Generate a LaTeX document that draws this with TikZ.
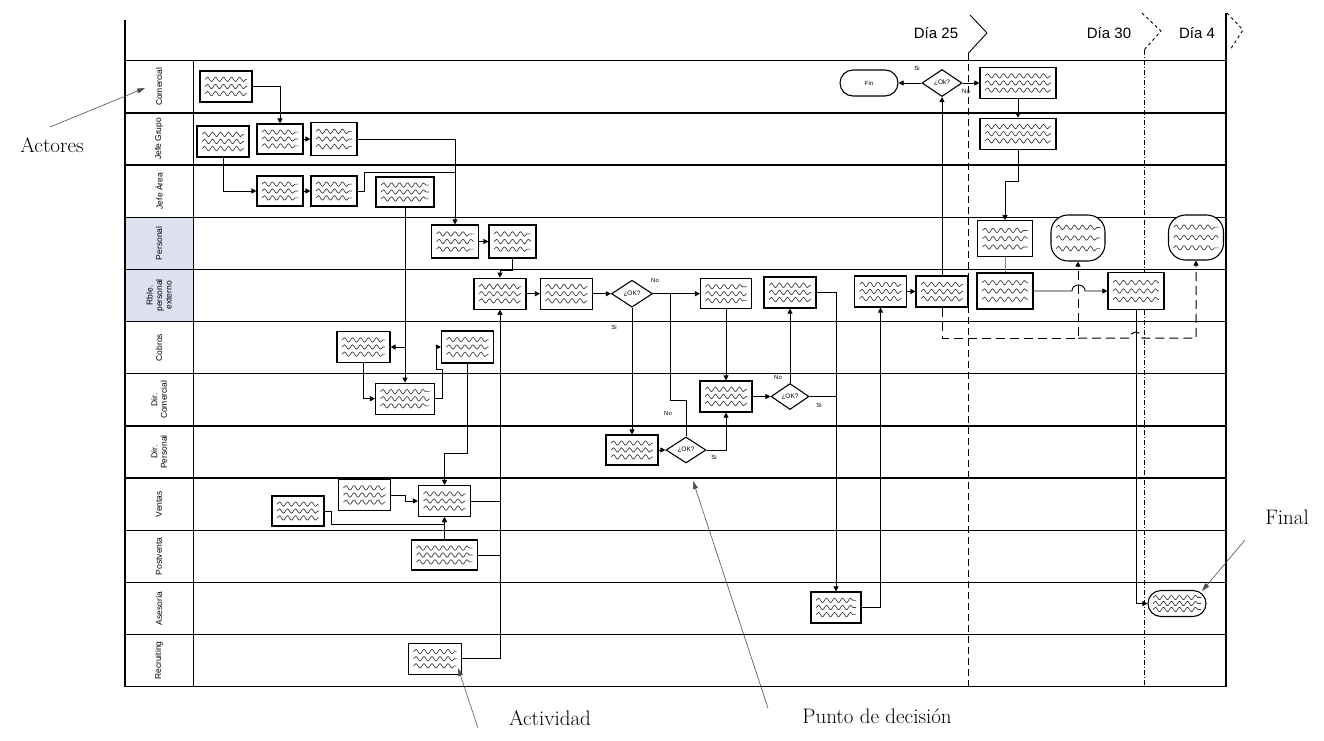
\documentclass[tikz,border=0pt]{standalone}
\usepackage{fontspec}
\setsansfont{Liberation Sans}
\usetikzlibrary{arrows.meta,shapes.geometric,decorations.pathmorphing,calc}
\definecolor{laneblue}{RGB}{222,224,240}
\definecolor{scrib}{RGB}{55,55,55}
\begin{document}
\begin{tikzpicture}[x=1pt,y=-1pt,
  lane/.style={line width=1.3pt},
  sz/.style 2 args={minimum width=#1pt, minimum height=#2pt},
  act/.style={draw, line width=1.1pt, fill=white, inner sep=0pt,
    path picture={
      \foreach \f in {0.27,0.5,0.73}{
        \draw[scrib, sharp corners, line width=0.65pt, decorate,
              decoration={snake,amplitude=2.2pt,segment length=8pt}]
          ($(path picture bounding box.north west)!\f!(path picture bounding box.south west)+(5pt,0)$) --
          ($(path picture bounding box.north east)!\f!(path picture bounding box.south east)+(-5pt,0)$);
      }}},
  pill/.style={act, rounded corners=#1},
  dec/.style={diamond, draw, line width=1.1pt, fill=white, inner sep=0pt,
    font=\sffamily\fontsize{6.5}{7}\selectfont},
  conn/.style={line width=0.9pt},
  arr/.style={conn, -{Triangle[length=5pt,width=5pt]}},
  dflow/.style={line width=1pt, dash pattern=on 9pt off 5pt, -{Triangle[length=5pt,width=5pt]}},
  ann/.style={line width=0.6pt, gray!60!black, -{Triangle[length=8pt,width=5pt]}},
  lbl/.style={font=\sffamily\fontsize{6}{7}\selectfont, inner sep=1pt},
  lanetxt/.style={rotate=90, align=center, font=\sffamily\fontsize{8.5}{9.5}\selectfont},
  anntxt/.style={font=\fontsize{21}{24}\selectfont},
  daytxt/.style={font=\sffamily\fontsize{15}{17}\selectfont}
]
\useasboundingbox (0,0) rectangle (1324,740);

% shaded label cells
\fill[laneblue] (125,217.4) rectangle (193,321.5);

% frame and lanes
\draw[line width=1.3pt] (125,20) -- (125,686.7) -- (1226,686.7) -- (1226,13);
\draw[lane] (125,60.7) -- (1226,60.7);
\foreach \k in {1,...,11}
  \draw[lane] (125,{60.7+52.17*\k}) -- (1226,{60.7+52.17*\k});
\draw[line width=0.8pt] (193,60.7) -- (193,686.7);

% lane labels
\node[lanetxt] at (159,86.8) {Comercial};
\node[lanetxt] at (159,138.9) {Jefe Grupo};
\node[lanetxt] at (159,191.1) {Jefe Área};
\node[lanetxt] at (159,243.3) {Personal};
\node[lanetxt] at (159,295.4) {Rble.\\personal\\externo};
\node[lanetxt] at (159,347.6) {Cobros};
\node[lanetxt] at (159,399.8) {Dir.\\Comercial};
\node[lanetxt] at (159,451.9) {Dir.\\Personal};
\node[lanetxt] at (159,504.1) {Ventas};
\node[lanetxt] at (159,556.3) {Postventa};
\node[lanetxt] at (159,608.4) {Asesoría};
\node[lanetxt] at (159,660.6) {Recruiting};

% day markers
\draw[line width=0.9pt] (970,15) -- (987,33) -- (968.5,53);
\draw[line width=0.9pt, dash pattern=on 7pt off 4pt] (968.5,53) -- (968.5,686.7);
\draw[line width=0.9pt, dashed] (1142,13) -- (1161,31) -- (1144,50);
\draw[line width=0.9pt, dash pattern=on 5pt off 2pt on 1pt off 2pt] (1144,50) -- (1144,686.7);
\draw[line width=0.9pt, dashed] (1227,13) -- (1243,30) -- (1230,50);
\node[daytxt] at (936,33) {Día 25};
\node[daytxt] at (1109,33) {Día 30};
\node[daytxt] at (1197,33) {Día 4};

% activities
\node[act, sz={52}{31}] (a1) at (226,86.5) {};
\node[act, sz={52}{31}] (b1) at (223,141.5) {};
\node[act, sz={46}{30}] (b2) at (280,139) {};
\node[act, sz={46}{33}] (b3) at (334,139) {};
\node[act, sz={46}{30}] (c1) at (280,191) {};
\node[act, sz={46}{30}] (c2) at (334,191) {};
\node[act, sz={58}{30}] (c3) at (405,192) {};
\node[act, sz={47}{33}] (d1) at (455,241.5) {};
\node[act, sz={47}{33}] (d2) at (512.5,241.5) {};
\node[act, sz={52}{31}] (e1) at (500,293.7) {};
\node[act, sz={52}{31}] (e2) at (566.5,293.7) {};
\node[dec, sz={41}{27}] (k1) at (632,293.7) {¿OK?};
\node[act, sz={51}{30}] (e3) at (726,293.7) {};
\node[act, sz={52}{31}] (e4) at (790,292.5) {};
\node[act, sz={52}{31}] (e5) at (880.5,291.5) {};
\node[act, sz={52}{31}] (e6) at (942,291.5) {};
\node[act, sz={56}{36}] (e7) at (1005,291) {};
\node[act, sz={56}{37}] (e8) at (1136,291) {};
\node[act, sz={53}{31}] (f1) at (363.5,347) {};
\node[act, sz={52}{32}] (f3) at (467.5,347) {};
\node[act, sz={59}{31}] (f2) at (405,398.7) {};
\node[act, sz={52}{31}] (m1) at (726,396.5) {};
\node[dec, sz={38}{26}] (k3) at (790,396.5) {¿OK?};
\node[act, sz={52}{30}] (l1) at (632,450) {};
\node[dec, sz={40}{26}] (k2) at (686,450) {¿OK?};
\node[act, sz={52}{30}] (g1) at (298,511) {};
\node[act, sz={52}{31}] (g2) at (364.5,495) {};
\node[act, sz={52}{31}] (g3) at (444.5,501) {};
\node[act, sz={66}{30}] (h1) at (444.5,555) {};
\node[act, sz={50}{31}] (n1) at (836,607.5) {};
\node[act, sz={53}{31}] (i1) at (435,658.7) {};
\node[draw, line width=1.1pt, fill=white, rounded corners=13pt, sz={58}{26},
      font=\sffamily\fontsize{6}{7}\selectfont] (fin) at (869,83) {Fin};
\node[dec, sz={40}{27}] (k4) at (942,83) {¿Ok?};
\node[act, sz={76}{31}] (o1) at (1018,83) {};
\node[act, sz={76}{31}] (o2) at (1018,133.7) {};
\node[act, sz={55}{36}] (o3) at (1005,238.7) {};
\node[pill=17pt, sz={54}{46}] (p1) at (1078,238) {};
\node[pill=17pt, sz={55}{45}] (p2) at (1196,237.5) {};
\node[pill=13pt, sz={58}{26}] (final) at (1177,603.5) {};

% connectors
\draw[arr] (a1.east) -| (b2.north);
\draw[arr] (b2.east) -- (b3.west);
\draw[arr] (b1.south) |- (c1.west);
\draw[arr] (c1.east) -- (c2.west);
\draw[arr] (b3.east) -| (d1.north);
\coordinate (j1) at (455,172);
\draw[conn] (c2.east) -- (364,191) |- (j1);
\draw[arr] (c3.south) -- (f2.north);
\draw[arr] (c3.south |- f1.east) -- (f1.east);
\draw[arr] (f1.south) |- (f2.west);
\draw[arr] (f2.east) -- (442,398.7) -- (442,369) -- (436,369) |- (f3.west);
\draw[arr] (f3.south) -- (467.5,453) -| (g3.north);
\draw[arr] (g2.east) -- (405,495) |- (g3.west);
\draw[arr] (g1.east) -- (331,511) |- (444.5,524) -- (g3.south);
\draw[arr] (h1.north) -- (g3.south);
\draw[arr] (i1.east) -| (e1.south);
\draw[conn] (g3.east) -- (g3.east -| e1.south);
\draw[conn] (h1.east) -- (h1.east -| e1.south);
\draw[arr] (d1.east) -- (d2.west);
\draw[arr] (d2.south) -- (512.5,270) -| (e1.north);
\draw[arr] (e1.east) -- (e2.west);
\draw[arr] (e2.east) -- (k1.west);
\draw[arr] (k1.east) -- (e3.west);
\draw[arr] (k1.south) -- (l1.north);
\draw[arr] (l1.east) -- (k2.west);
\draw[conn] (k2.north) -- (686,400) -- (670,400) -- (670,293.7);
\draw[arr] (k2.east) -| (m1.south);
\draw[arr] (e3.south) -- (m1.north);
\draw[arr] (m1.east) -- (k3.west);
\draw[arr] (k3.north) -- (e4.south);
\draw[conn] (k3.east) -- (k3.east -| n1.north);
\draw[arr] (e4.east) -| (n1.north);
\draw[arr] (n1.east) -| (e5.south);
\draw[arr] (e5.east) -- (e6.west);
\draw[arr] (e6.north) -- (k4.south);
\draw[arr] (k4.west) -- (fin.east);
\draw[arr] (k4.east) -- (o1.west);
\draw[arr] (o1.south) -- (o2.north);
\draw[arr] (o2.south) -- (1018,181.7) -| (o3.north);
\draw[line width=0.5pt, gray] (o3.south) -- (e7.north);
\draw[arr] (e7.east) -- (1072,291) .. controls (1072,283) and (1085,283) .. (1085,291) -- (e8.west);
\draw[arr] (e8.south) |- (final.west);
\draw[dflow] (e6.south) |- (1078,338) -- (p1.south);
\draw[dflow] (1078,338) -- (1130,338) .. controls (1130,330) and (1142,330) .. (1142,338) -| (p2.south);

% branch labels
\node[lbl] at (655,280) {No};
\node[lbl] at (614,327) {Si};
\node[lbl] at (668,413) {No};
\node[lbl] at (714,457) {Si};
\node[lbl] at (778,377.5) {No};
\node[lbl] at (819,405) {Si};
\node[lbl] at (917,68) {Si};
\node[lbl] at (966,91) {No};

% annotations
\node[anntxt] (tact) at (52,145) {Actores};
\node[anntxt] (tactiv) at (550,718) {Actividad};
\node[anntxt] (tpunto) at (877,716) {Punto de decisión};
\node[anntxt] (tfinal) at (1287,517) {Final};
\coordinate (aa) at (50,127);
\coordinate (ab) at (145,88);
\draw[ann] (aa) -- (ab);
\coordinate (ba) at (478,728);
\coordinate (bb) at (458,668);
\draw[ann] (ba) -- (bb);
\coordinate (ca) at (768,708);
\coordinate (cb) at (693,481);
\draw[ann] (ca) -- (cb);
\coordinate (da) at (1245,540);
\coordinate (db) at (1202,591);
\draw[ann] (da) -- (db);
\end{tikzpicture}
\end{document}
